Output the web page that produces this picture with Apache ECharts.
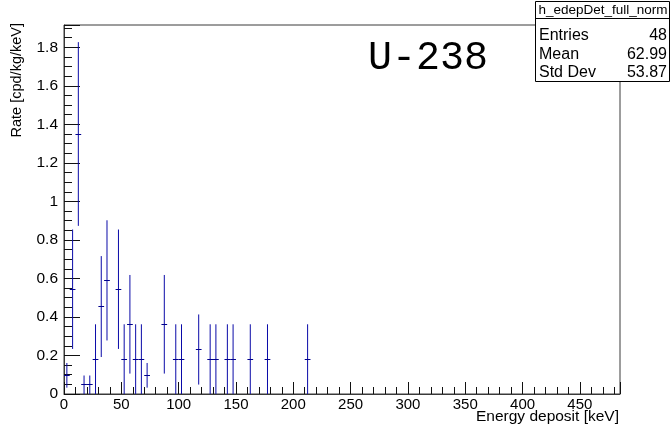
<!DOCTYPE html>
<html>
<head>
<meta charset="utf-8">
<script src="https://cdn.jsdelivr.net/npm/echarts@6/dist/echarts.min.js"></script>
<style>
  html, body { margin: 0; padding: 0; background: #fff; }
  #chart { width: 671px; height: 428px; }
</style>
</head>
<body>
<div id="chart"></div>
<script>
// Histogram h_edepDet_full_norm: 5 keV bins, only non-empty bins listed
const binWidth = 5;
const binCenters = [2.5, 7.5, 12.5, 17.5, 22.5, 27.5, 32.5, 37.5, 47.5, 52.5, 57.5, 62.5,
  67.5, 72.5, 87.5, 97.5, 102.5, 117.5, 127.5, 132.5, 142.5, 147.5, 162.5, 177.5, 212.5];
const rates = [0.097, 0.544, 1.35, 0.048, 0.048, 0.181, 0.454, 0.59, 0.544, 0.181, 0.362, 0.181,
  0.181, 0.097, 0.362, 0.181, 0.181, 0.231, 0.181, 0.181, 0.181, 0.181, 0.181, 0.181, 0.181];
const rateErrors = [0.064, 0.31, 0.477, 0.048, 0.048, 0.181, 0.262, 0.312, 0.31, 0.181, 0.256, 0.181,
  0.181, 0.064, 0.256, 0.181, 0.181, 0.182, 0.181, 0.181, 0.181, 0.181, 0.181, 0.181, 0.181];

// Axis ranges and tick spacing
const xRange = [0, 485];
const yRange = [0, 1.916];
const xMajor = 50, xMinor = 10;
const yMajor = 0.2, yMinor = 0.05;

// Stats box contents
const statsTitle = 'h_edepDet_full_norm';
const statsNames = ['Entries', 'Mean', 'Std Dev'];
const statsValues = ['48', '62.99', '53.87'];

const xTitle = 'Energy deposit [keV]';
const yTitle = 'Rate [cpd/kg/keV]';
const plotLabel = 'U-238';

const barColor = '#0a0aa8';
const capColor = '#00008c';
const frameColor = '#3a3a3a';
const font = '"Liberation Sans", Arial, Helvetica, sans-serif';

const chart = echarts.init(document.getElementById('chart'), null, { renderer: 'canvas' });

const isMultiple = (v, step) => Math.abs(v / step - Math.round(v / step)) < 1e-6;
const crisp = p => Math.round(p - 0.5) + 0.5;

const statsRowY = [36, 54.5, 73];
const statsGraphics = [
  { type: 'rect', shape: { x: 535.5, y: 1.5, width: 134, height: 80 },
    style: { fill: '#fff', stroke: '#000', lineWidth: 1 }, z: 100 },
  { type: 'line', shape: { x1: 535.5, y1: 18.5, x2: 669.5, y2: 18.5 },
    style: { stroke: '#000', lineWidth: 1 }, z: 101 },
  { type: 'text', x: 603, y: 10.5, z: 101,
    style: { text: statsTitle, font: '13.5px ' + font, fill: '#000', align: 'center', verticalAlign: 'middle' } }
];
statsNames.forEach((name, i) => {
  statsGraphics.push({ type: 'text', x: 539, y: statsRowY[i], z: 101,
    style: { text: name, font: '16px ' + font, fill: '#000', align: 'left', verticalAlign: 'middle' } });
  statsGraphics.push({ type: 'text', x: 667, y: statsRowY[i], z: 101,
    style: { text: statsValues[i], font: '16px ' + font, fill: '#000', align: 'right', verticalAlign: 'middle' } });
});

const option = {
  backgroundColor: '#fff',
  animation: false,
  grid: {
    left: 64, right: 51, top: 25, bottom: 34,
    show: true, borderColor: frameColor, borderWidth: 1, backgroundColor: 'transparent'
  },
  xAxis: [
    { // major ticks with labels
      type: 'value', min: xRange[0], max: xRange[1], interval: xMajor,
      axisLine: { show: true, lineStyle: { color: frameColor } },
      axisTick: { show: true, inside: true, length: 12, lineStyle: { color: '#111' } },
      axisLabel: { show: true, margin: 3, color: '#000', fontSize: 15, fontFamily: font,
        formatter: v => isMultiple(v, xMajor) ? String(v) : '' },
      splitLine: { show: false }
    },
    { // minor ticks
      type: 'value', min: xRange[0], max: xRange[1], interval: xMinor, position: 'bottom', offset: 0,
      axisLine: { show: false },
      axisTick: { show: true, inside: true, length: 7, lineStyle: { color: '#111' } },
      axisLabel: { show: false }, splitLine: { show: false }
    }
  ],
  yAxis: [
    {
      type: 'value', min: yRange[0], max: yRange[1], interval: yMajor,
      axisLine: { show: true, lineStyle: { color: frameColor } },
      axisTick: { show: true, inside: true, length: 16, lineStyle: { color: '#111' } },
      axisLabel: { show: true, margin: 6, color: '#000', fontSize: 15.5, fontFamily: font,
        formatter: v => isMultiple(v, yMajor) ? String(Math.round(v * 10) / 10) : '' },
      splitLine: { show: false }
    },
    {
      type: 'value', min: yRange[0], max: yRange[1], interval: yMinor, position: 'left', offset: 0,
      axisLine: { show: false },
      axisTick: { show: true, inside: true, length: 8, lineStyle: { color: '#111' } },
      axisLabel: { show: false }, splitLine: { show: false }
    }
  ],
  series: [{
    type: 'custom',
    xAxisIndex: 0, yAxisIndex: 0,
    data: binCenters.map((c, i) => [c, rates[i], rateErrors[i]]),
    encode: { x: 0, y: 1 },
    renderItem: (params, api) => {
      const x = api.value(0), v = api.value(1), e = api.value(2);
      const lo = Math.max(0, v - e), hi = v + e;
      const pLo = api.coord([x, lo]);
      const pHi = api.coord([x, hi]);
      const pL = api.coord([x - binWidth / 2, v]);
      const pR = api.coord([x + binWidth / 2, v]);
      const yc = crisp(pL[1]);
      return {
        type: 'group',
        children: [
          { type: 'line', shape: { x1: pLo[0], y1: pLo[1], x2: pHi[0], y2: pHi[1] },
            style: { stroke: barColor, lineWidth: 1 } },
          { type: 'line', shape: { x1: pL[0], y1: yc, x2: pR[0], y2: yc },
            style: { stroke: capColor, lineWidth: 1 } }
        ]
      };
    }
  }],
  graphic: [
    { type: 'text', x: 428, y: 58, z: 50,
      style: { text: plotLabel, font: '40px "Liberation Mono", "DejaVu Sans Mono", monospace', fill: '#000',
        align: 'center', verticalAlign: 'middle' } },
    { type: 'text', x: 619, y: 417,
      style: { text: xTitle, font: '15.5px ' + font, fill: '#000', align: 'right', verticalAlign: 'middle' } },
    { type: 'text', x: 17, y: 23, rotation: Math.PI / 2,
      style: { text: yTitle, font: '14.5px ' + font, fill: '#000', align: 'right', verticalAlign: 'middle' } },
    ...statsGraphics
  ]
};

chart.setOption(option);
</script>
</body>
</html>
